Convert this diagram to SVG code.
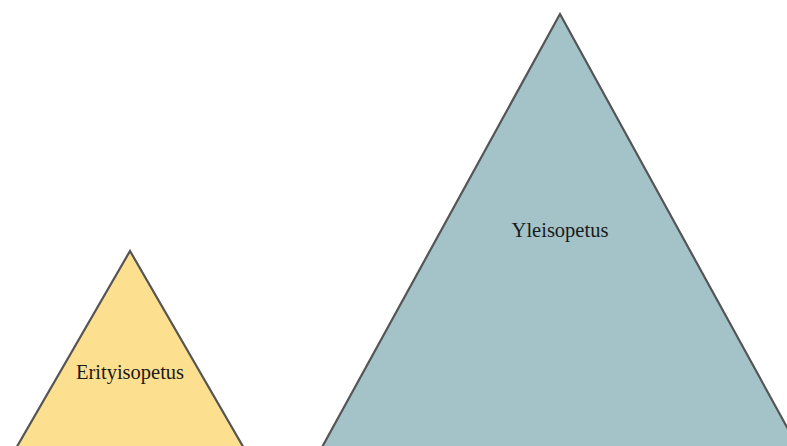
<svg xmlns="http://www.w3.org/2000/svg" width="787" height="446" viewBox="0 0 787 446">
<style>
.tri{stroke:#555555;stroke-width:2.2;stroke-linejoin:miter}
.lbl{font-family:"Liberation Serif","Times New Roman",serif;font-size:20.5px;fill:#1a1a1a;text-anchor:middle}
</style>
<rect width="787" height="446" fill="#ffffff"/>
<g id="erityisopetus">
<polygon class="tri" points="130,251 -11,495 271,495" fill="#FDE08F"/>
<text class="lbl" x="130" y="379">Erityisopetus</text>
</g>
<g id="yleisopetus">
<polygon class="tri" points="560,14 293,500 827,500" fill="#A3C3C9"/>
<text class="lbl" x="560" y="237">Yleisopetus</text>
</g>
<g id="connectors"></g>
</svg>
